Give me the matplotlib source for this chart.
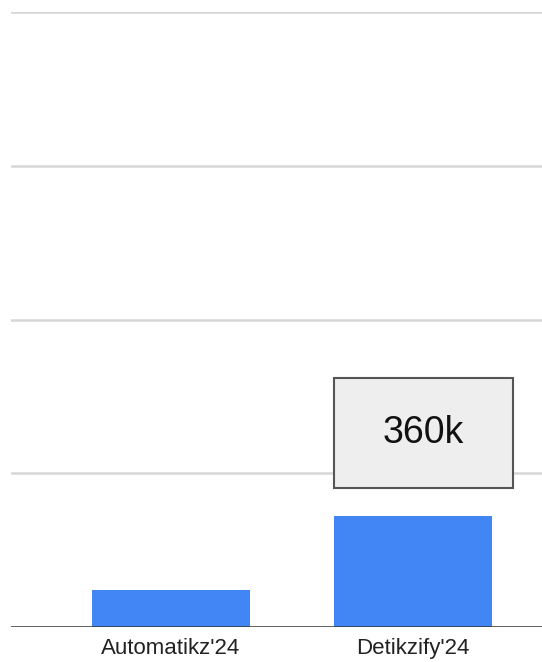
import matplotlib.pyplot as plt
from matplotlib.patches import Rectangle

plt.rcParams['font.family'] = ['Liberation Sans', 'DejaVu Sans']

# dataset sizes in thousands of examples
names = ["Automatikz'24", "Detikzify'24"]
sizes = [120, 360]
grid_vals = [500, 1000, 1500, 2000]

fig = plt.figure(figsize=(5.42, 6.62), dpi=100)
ax = fig.add_axes([11 / 542, 1 - 627 / 662, 531 / 542, (627 - 12) / 662])

x = list(range(len(names)))
bar_w = 0.653
ax.bar(x, sizes, width=bar_w, color='#4285f4', zorder=3)

for g in grid_vals:
    ax.axhline(g, color='#d6d6d6', lw=1.8, zorder=1)
ax.axhline(0, color='#333333', lw=1.8, zorder=4)

# value box above the larger bar
i = 1
box_left = x[i] - bar_w / 2
box_bottom = sizes[i] + 91
box_w, box_h = 0.74, 360
ax.add_patch(Rectangle((box_left, box_bottom), box_w, box_h,
                       facecolor='#eeeeee', edgecolor='#555555', lw=1.5, zorder=5))
ax.text(box_left + box_w / 2, box_bottom + box_h / 2, f"{sizes[i]}k",
        ha='center', va='center', fontsize=27, color='#111111', zorder=6)

ax.set_xlim(-0.661, 1.533)
ax.set_ylim(0, 2000)
ax.set_xticks(x)
ax.set_xticklabels(names, fontsize=16, color='#222222')
ax.tick_params(axis='x', length=0, pad=8)
ax.set_yticks([])
for s in ax.spines.values():
    s.set_visible(False)

fig.savefig('out.png', dpi=100)
